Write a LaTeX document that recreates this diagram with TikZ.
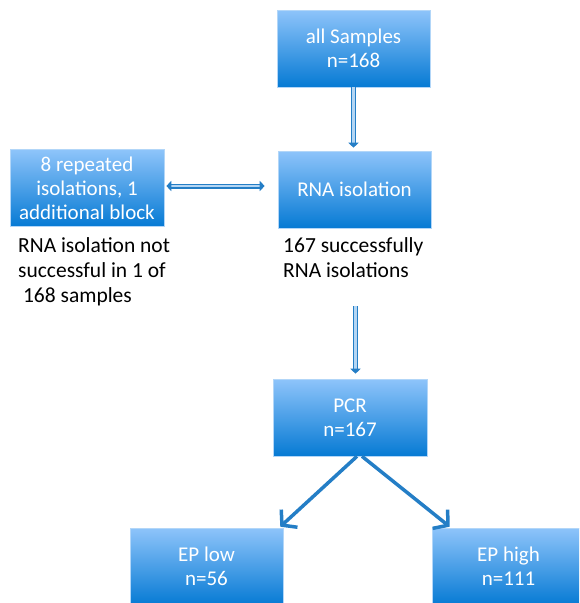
\documentclass[tikz,border=0pt]{standalone}
\usepackage{fontspec}
\setmainfont{Carlito}
\usepackage{tikz}
\usetikzlibrary{arrows.meta,positioning,calc}
\definecolor{boxtop}{RGB}{142,196,250}
\definecolor{boxmid}{RGB}{98,168,238}
\definecolor{boxbottom}{RGB}{6,122,212}
\definecolor{boxrim}{RGB}{178,214,248}
\definecolor{arrowblue}{RGB}{36,126,198}
\definecolor{arrowcore}{RGB}{180,214,244}

\begin{document}
\begin{tikzpicture}[
    x=1pt, y=-1pt,
    font=\fontsize{21}{24}\selectfont,
    box/.style={draw=boxrim, line width=0.6pt, top color=boxtop, middle color=boxmid, bottom color=boxbottom, text=white, align=center, minimum width=153pt, minimum height=77pt, inner sep=2pt},
    note/.style={anchor=north west, align=left, inner sep=0pt, text=black, font=\fontsize{21.5}{25}\selectfont},
    pipe/.style={-{Triangle[length=5pt, width=10pt]}, draw=arrowblue, double=arrowcore, double distance=2.4pt, line width=1.3pt},
    twoway/.style={pipe, {Triangle[length=5pt, width=10pt]}-{Triangle[length=5pt, width=10pt]}},
    branch/.style={-{Straight Barb[length=10pt, width=24pt, line width=3.5pt]}, draw=arrowblue, line width=3.5pt}
  ]
    \clip (0,0) rectangle (579,603);

    \node[box] (all) at (353.5,48.5) {all Samples\\n=168};
    \node[box] (rna) at (354.5,189.5) {RNA isolation};
    \node[box, minimum width=154pt] (repeat) at (87,188) {8 repeated\\isolations, 1\\additional block};

    \node[note] (failnote) at (18,237) {RNA isolation not\\successful in 1 of\\\ 168 samples};
    \node[note] (okay) at (283,237) {167 successfully\\RNA isolations};

    \node[box, minimum width=154pt] (pcr) at (350,417.5) {PCR\\n=167};
    \node[box] (low) at (206.5,566.5) {EP low\\n=56};
    \node[box] (high) at (508.5,566.5) {EP high\\n=111};

    \draw[pipe, shorten >=3pt] (all.south) -- (all.south |- rna.north);
    \draw[twoway, shorten <=2pt, shorten >=13pt] ($(repeat.east)+(0,-2)$) -- ($(repeat.east -| rna.west)+(0,-2)$);
    \draw[pipe, shorten <=78pt, shorten >=5pt] ($(rna.south)+(1,0)$) -- ($(rna.south |- pcr.north)+(1,0)$);
    \draw[branch] ($(pcr.south)+(7,0)$) -- ($(low.north east)+(-3,-1)$);
    \draw[branch] ($(pcr.south)+(12,0)$) -- ($(high.north west)+(18,-1)$);

  \end{tikzpicture}
\end{document}
